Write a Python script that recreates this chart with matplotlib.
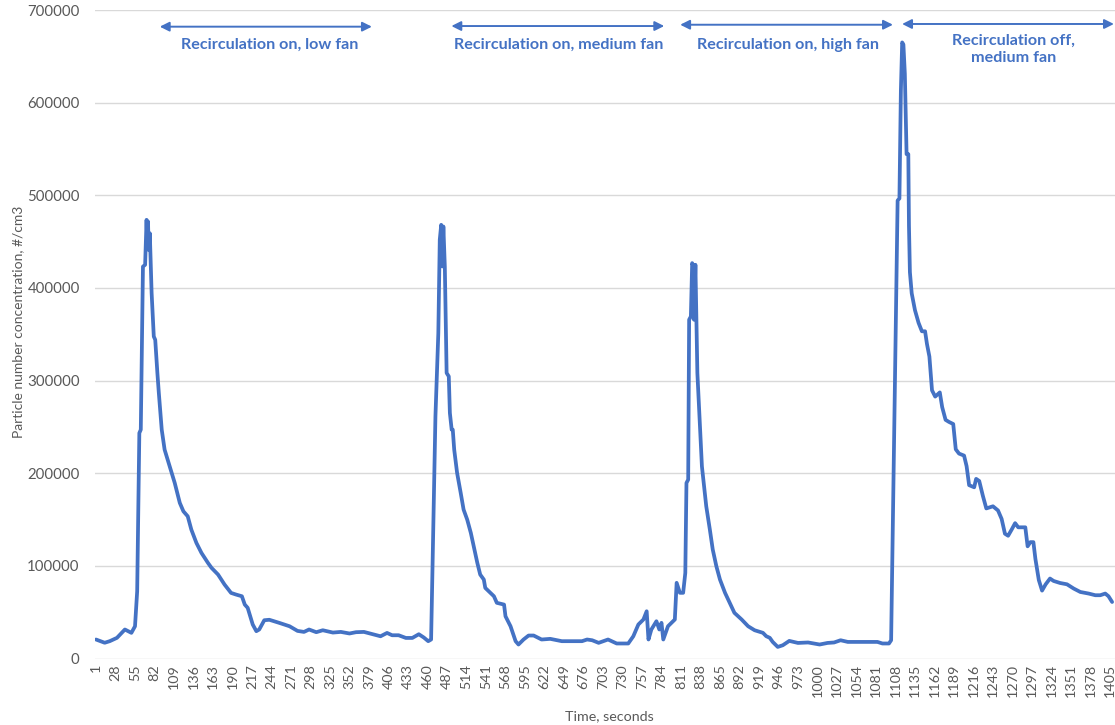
import matplotlib
matplotlib.use("Agg")
import matplotlib.pyplot as plt
import numpy as np

plt.rcParams['font.family'] = ['Lato', 'DejaVu Sans']

# recirculation on, low fan
t_low = [1, 13, 20, 30, 41, 50, 55, 58, 61, 63, 66, 69, 71, 72, 73, 74, 75.5, 78, 81, 83,
         86, 88, 92, 96, 103, 110, 117, 122, 128, 133, 140, 147, 156, 161, 170, 179, 188,
         195, 203, 207, 211, 216, 218, 223, 227, 234, 241, 255, 269, 280, 289, 296, 306,
         315, 329, 340, 352, 361, 372, 384, 395, 404, 411, 420, 430, 439, 448, 455, 461, 465]
c_low = [20500, 17000, 18700, 22300, 31300, 27700, 34800, 72600, 243400, 247000, 423000,
         425000, 473500, 448000, 471700, 441000, 459000, 394600, 347600, 344000, 308000,
         286500, 247000, 225400, 207400, 189500, 168000, 158900, 153500, 139100, 124800,
         114000, 103200, 97800, 90600, 79800, 70800, 69000, 67200, 58200, 54700, 42100,
         36700, 29500, 31300, 41300, 41800, 38400, 34800, 29800, 28700, 31300, 28400, 30500,
         28000, 28700, 27000, 28400, 28700, 26200, 24000, 27600, 25100, 25100, 22200, 22200,
         26200, 22600, 18700, 20500]

# recirculation on, medium fan
t_med = [466, 467, 471, 475, 477, 479, 480.5, 482, 484, 486.5, 489.5, 491, 493.5, 495, 497,
         501, 506, 510, 515, 520, 524, 529, 533, 538, 540, 547, 552, 556, 566, 568, 575, 582,
         586, 593, 600, 607, 618, 630, 646, 674, 681, 688, 697, 710, 722, 738, 745, 752, 759,
         763.5, 766, 770, 777, 781, 784, 786.5, 793, 802.5]
c_med = [63000, 100000, 261300, 351300, 452000, 468100, 423200, 466300, 423000, 308200,
         304500, 265000, 247000, 247000, 225400, 200300, 178700, 160700, 149900, 135600,
         121100, 103200, 90600, 85200, 76200, 70900, 67200, 60100, 58200, 45600, 34800,
         18700, 15100, 20500, 24800, 24800, 20500, 21200, 18700, 18700, 20500, 19700, 16900,
         20500, 16200, 16200, 24000, 36700, 42100, 51000, 20500, 31300, 40200, 31300, 38500,
         20500, 34800, 42100]

# recirculation on, high fan
t_high = [805, 809.5, 814, 817, 818.6, 821, 822.3, 824.7, 826.5, 828.3, 829, 831, 833.7, 837,
          840, 844, 846, 851, 855, 860, 865, 872, 878.5, 885, 895, 904, 913, 924.5, 929, 934,
          938, 945, 952, 961, 973, 987, 1003, 1014, 1023, 1032, 1042, 1060, 1083, 1090, 1099]
c_high = [81700, 70900, 70900, 92400, 189500, 193100, 365700, 369200, 426800, 423200, 365700,
          425000, 308200, 254200, 207400, 178700, 164300, 139100, 117600, 99600, 85200,
          70900, 60100, 49300, 42100, 34800, 30500, 27700, 24100, 22300, 17900, 12500, 14300,
          19000, 16800, 17300, 15100, 16800, 17300, 19700, 17900, 17900, 17900, 16200, 16200]

# recirculation off, medium fan
t_off = [1102, 1111, 1113.5, 1115.5, 1117.3, 1119, 1121, 1123.4, 1125.8, 1126.7, 1128, 1130.5,
         1135, 1140, 1144.6, 1149, 1151.6, 1155, 1158.6, 1163, 1169.4, 1172.7, 1177.4, 1182,
         1188, 1191.5, 1196, 1203, 1206.5, 1210, 1217, 1219.7, 1224, 1229, 1233.8, 1243, 1250,
         1255, 1259.6, 1264, 1269, 1273.7, 1278, 1287.8, 1291, 1294.8, 1299, 1301.8, 1306.5,
         1311, 1316, 1322, 1327, 1336, 1345.5, 1354.8, 1364, 1375.5, 1384.7, 1391.6, 1398.5,
         1403, 1408]
c_off = [19700, 494400, 496600, 612700, 665000, 662700, 631000, 544400, 544400, 467000, 417000,
         394200, 376000, 362300, 353200, 353200, 339600, 325900, 289500, 282700, 287200,
         271300, 257600, 255400, 253100, 225800, 221200, 219000, 207600, 187100, 184800,
         193900, 191600, 175700, 162000, 164300, 159800, 150700, 134700, 132500, 139300,
         146100, 141600, 141600, 121100, 125600, 125600, 107400, 84700, 73300, 80100, 86300,
         83700, 81500, 80100, 75500, 71800, 70100, 68300, 68300, 70100, 67200, 61000]

phase_labels = ['Recirculation on, low fan', 'Recirculation on, medium fan',
                'Recirculation on, high fan', 'Recirculation off,\nmedium fan']

x_ticks = list(range(1, 1406, 27))
y_ticks = list(range(0, 700001, 100000))

blue = '#4472C4'
grey = '#595959'

t = np.concatenate([t_low, t_med, t_high, t_off])
c = np.concatenate([c_low, c_med, c_high, c_off])

fig = plt.figure(figsize=(11.15, 7.25), dpi=100)
ax = fig.add_axes([95 / 1115, 1 - 658.5 / 725, 1020 / 1115, 648.5 / 725])

ax.plot(t, c, color=blue, lw=2.7, solid_joinstyle='round', solid_capstyle='round', zorder=3)

ax.set_xlim(-0.4, 1412)
ax.set_ylim(0, 700000)
ax.set_xticks(x_ticks)
ax.set_xticklabels([str(v) for v in x_ticks], rotation=90)
ax.set_yticks(y_ticks)
ax.set_yticklabels([str(v) for v in y_ticks])
ax.tick_params(axis='both', length=0, colors=grey, labelsize=10.8)
ax.tick_params(axis='x', labelsize=10.3, pad=4)
ax.tick_params(axis='y', pad=11)
ax.grid(axis='y', color='#D9D9D9', lw=1)
ax.set_axisbelow(True)
for s in ax.spines.values():
    s.set_visible(False)

fig.text(18 / 1115, 1 - 322 / 725, 'Particle number concentration, #/cm3', rotation=90,
         ha='center', va='center', color=grey, fontsize=10)
fig.text(609 / 1115, 1 - 716 / 725, 'Time, seconds', ha='center', va='center',
         color=grey, fontsize=10.3)

# arrows and phase titles (layout only)
spans = [(89.3, 383.0, 682000), (493.1, 787.8, 682700), (809.9, 1104.5, 684100), (1117.2, 1410.5, 684900)]
text_pos = [(241.9, 662200), (642.2, 662200), (959.0, 662200), (1271.0, 657300)]
for (a, b, yv), (tx, ty), lab in zip(spans, text_pos, phase_labels):
    ax.annotate('', xy=(b, yv), xytext=(a, yv),
                arrowprops=dict(arrowstyle='<|-|>', color=blue, lw=1.4, mutation_scale=14,
                                shrinkA=0, shrinkB=0), annotation_clip=False)
    ax.text(tx, ty, lab, ha='center', va='center', color=blue, fontsize=11.6,
            fontweight='bold', linespacing=1.35)

fig.savefig('out.png', dpi=100)
